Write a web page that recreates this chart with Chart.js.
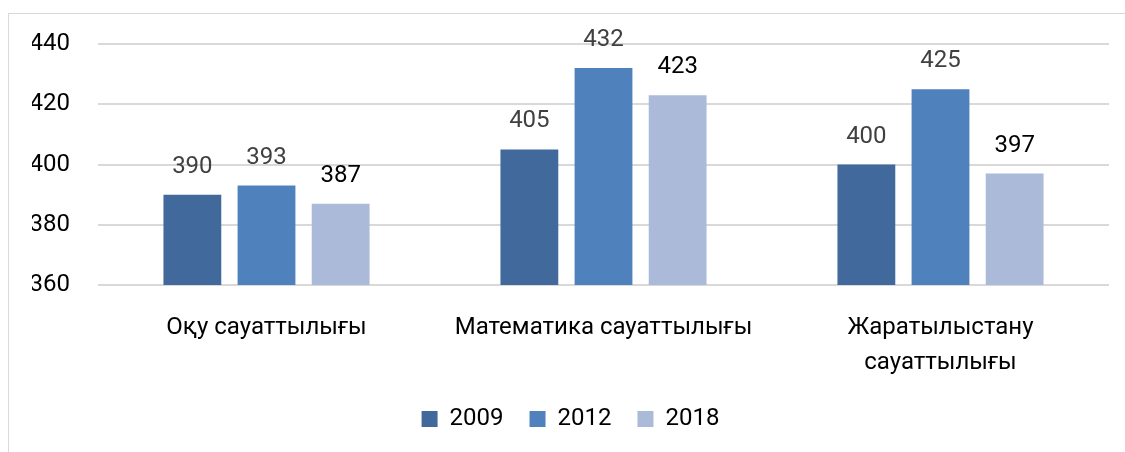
<!DOCTYPE html>
<html>
<head>
<meta charset="utf-8">
<script src="https://cdn.jsdelivr.net/npm/chart.js@4"></script>
<style>
  html, body { margin: 0; padding: 0; background: #fff; }
  #frame { position: absolute; left: 8px; top: 13px; width: 1125px; height: 460px; border: 1px solid #d9d9d9; box-sizing: border-box; }
  #wrap { position: absolute; left: 0; top: 0; width: 1125px; height: 452px; }
</style>
</head>
<body>
<div id="frame"></div>
<div id="wrap"><canvas id="pisaChart"></canvas></div>
<script>
const categories = [['Оқу сауаттылығы'], ['Математика сауаттылығы'], ['Жаратылыстану', 'сауаттылығы']];
const seriesNames = ['2009', '2012', '2018'];
const values2009 = [390, 405, 400];
const values2012 = [393, 432, 425];
const values2018 = [387, 423, 397];
const yTicks = [360, 380, 400, 420, 440];

const fontFamily = 'Roboto, "Noto Sans", sans-serif';

// value labels over each bar
const barLabels = {
  id: 'barLabels',
  afterDatasetsDraw(chart) {
    const ctx = chart.ctx;
    ctx.save();
    ctx.font = '24px ' + fontFamily;
    ctx.textAlign = 'center';
    ctx.textBaseline = 'middle';
    chart.data.datasets.forEach((ds, i) => {
      const meta = chart.getDatasetMeta(i);
      ctx.fillStyle = ds.labelColor;
      meta.data.forEach((bar, j) => {
        ctx.fillText(ds.data[j], bar.x, bar.y - 28);
      });
    });
    ctx.restore();
  }
};

new Chart(document.getElementById('pisaChart'), {
  type: 'bar',
  data: {
    labels: categories,
    datasets: [
      { label: seriesNames[0], data: values2009, backgroundColor: '#41699b', labelColor: '#404040' },
      { label: seriesNames[1], data: values2012, backgroundColor: '#4f81bd', labelColor: '#404040' },
      { label: seriesNames[2], data: values2018, backgroundColor: '#abbad8', labelColor: '#000000' }
    ]
  },
  options: {
    responsive: true,
    maintainAspectRatio: false,
    animation: false,
    // left padding nudges the centred legend right, y axis width compensates
    layout: { padding: { top: 44, right: 16, left: 32, bottom: 11 } },
    datasets: { bar: { categoryPercentage: 0.66, barPercentage: 0.78 } },
    scales: {
      x: {
        grid: { display: false },
        border: { display: false },
        ticks: { color: '#000', font: { family: fontFamily, size: 24, lineHeight: 1.46 }, padding: 17, maxRotation: 0 },
        afterFit(scale) { scale.height = 96; }
      },
      y: {
        min: 360,
        max: 440,
        afterBuildTicks(scale) { scale.ticks = yTicks.map(v => ({ value: v })); },
        grid: { color: '#d9d9d9', lineWidth: 2, drawTicks: false },
        border: { display: false },
        ticks: { color: '#000', font: { family: fontFamily, size: 24 }, padding: 28 },
        afterFit(scale) { scale.width = 66; }
      }
    },
    plugins: {
      tooltip: { enabled: false },
      legend: {
        position: 'bottom',
        labels: { color: '#000', font: { family: fontFamily, size: 24 }, boxWidth: 16, boxHeight: 16, padding: 26 }
      }
    }
  },
  plugins: [barLabels]
});
</script>
</body>
</html>
